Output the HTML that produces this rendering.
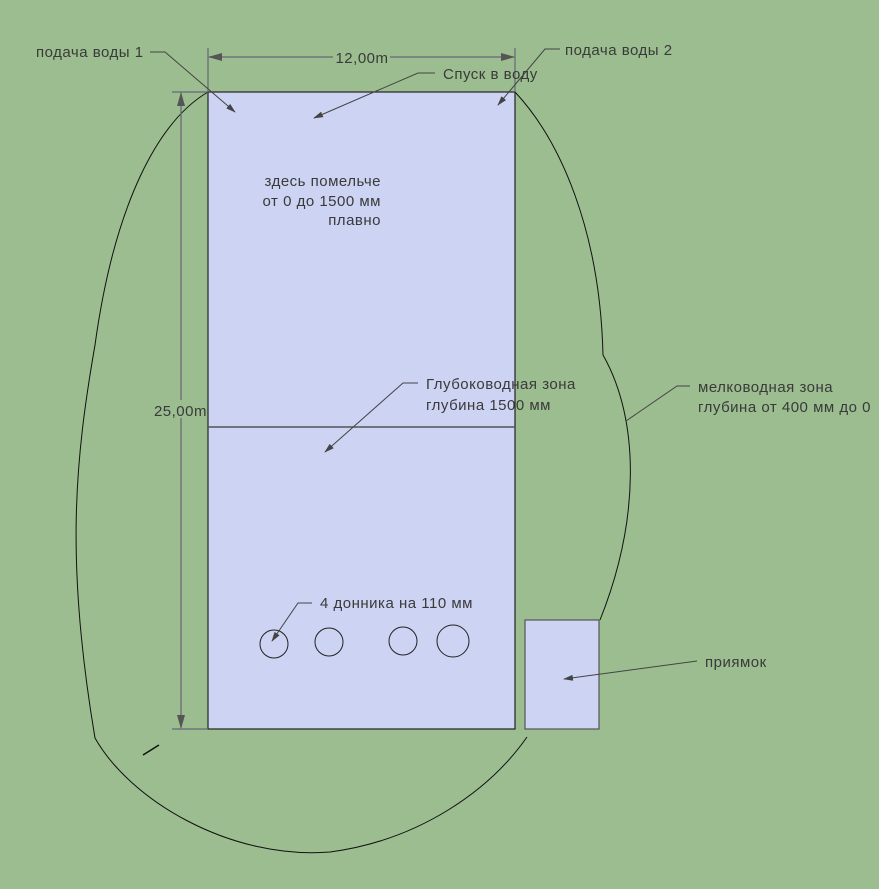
<!DOCTYPE html>
<html><head><meta charset="utf-8"><style>
html,body{margin:0;padding:0;background:#9bbd8f;}
svg{display:block}
text{font-family:"Liberation Sans","DejaVu Sans",sans-serif;font-size:15px;letter-spacing:0.5px;fill:#3a3a3a}
</style></head><body>
<svg width="879" height="889" viewBox="0 0 879 889" xmlns="http://www.w3.org/2000/svg">
<defs>
<marker id="a" markerWidth="10" markerHeight="6" refX="9" refY="3" orient="auto" markerUnits="userSpaceOnUse"><path d="M0,0 L10,3 L0,6 z" fill="#444"/></marker>
<marker id="d" markerWidth="14" markerHeight="8" refX="13" refY="4" orient="auto" markerUnits="userSpaceOnUse"><path d="M0,0 L14,4 L0,8 z" fill="#555"/></marker>
</defs>
<rect width="879" height="889" fill="#9bbd8f"/>
<path d="M208,92 C160,120 115,200 95,345 C75,460 65,560 95,738 C130,800 230,860 330,852 C420,840 490,790 527,737" fill="none" stroke="#111" stroke-width="1"/>
<path d="M515,92 C560,140 600,230 603,355 C640,420 640,520 600,620" fill="none" stroke="#111" stroke-width="1"/>
<line x1="143" y1="755" x2="159" y2="745" stroke="#111" stroke-width="1.5"/>
<rect x="208" y="92" width="307" height="637" fill="#cdd3f3" stroke="#222" stroke-width="1.2"/>
<line x1="208" y1="427" x2="515" y2="427" stroke="#555" stroke-width="1.5"/>
<rect x="525" y="620" width="74" height="109" fill="#cdd3f3" stroke="#555" stroke-width="1.2"/>
<g fill="none" stroke="#222">
<circle cx="274" cy="644" r="14"/><circle cx="329" cy="642" r="14"/><circle cx="403" cy="641" r="14"/><circle cx="453" cy="641" r="16"/>
</g>
<g stroke="#667" stroke-width="1.2">
<line x1="208" y1="48" x2="208" y2="92"/><line x1="515" y1="48" x2="515" y2="92"/>
<line x1="333" y1="57" x2="209" y2="57" marker-end="url(#d)"/>
<line x1="390" y1="57" x2="514" y2="57" marker-end="url(#d)"/>
<line x1="172" y1="92" x2="208" y2="92"/><line x1="172" y1="729" x2="208" y2="729"/>
<line x1="181" y1="400" x2="181" y2="93" marker-end="url(#d)"/>
<line x1="181" y1="418" x2="181" y2="728" marker-end="url(#d)"/>
</g>
<text x="362" y="63" text-anchor="middle">12,00m</text>
<text x="207" y="416" text-anchor="end">25,00m</text>
<g fill="none" stroke="#444" stroke-width="1">
<polyline points="150,52 165,52 235,112" marker-end="url(#a)"/>
<polyline points="560,49 545,49 498,105" marker-end="url(#a)"/>
<polyline points="435,73 418,73 314,118" marker-end="url(#a)"/>
<polyline points="418,383 403,383 325,452" marker-end="url(#a)"/>
<polyline points="690,386 677,386 626,421"/>
<polyline points="312,603 298,603 272,641" marker-end="url(#a)"/>
<polyline points="697,661 564,679" marker-end="url(#a)"/>
</g>
<text x="36" y="57">подача воды 1</text>
<text x="565" y="55">подача воды 2</text>
<text x="443" y="79">Спуск в воду</text>
<text x="381" y="186" text-anchor="end">здесь помельче</text>
<text x="381" y="206" text-anchor="end">от 0 до 1500 мм</text>
<text x="381" y="225" text-anchor="end">плавно</text>
<text x="426" y="389">Глубоководная зона</text>
<text x="426" y="410">глубина 1500 мм</text>
<text x="698" y="392">мелководная зона</text>
<text x="698" y="412">глубина от 400 мм до 0</text>
<text x="320" y="608">4 донника на 110 мм</text>
<text x="705" y="667">приямок</text>
</svg>
</body></html>
